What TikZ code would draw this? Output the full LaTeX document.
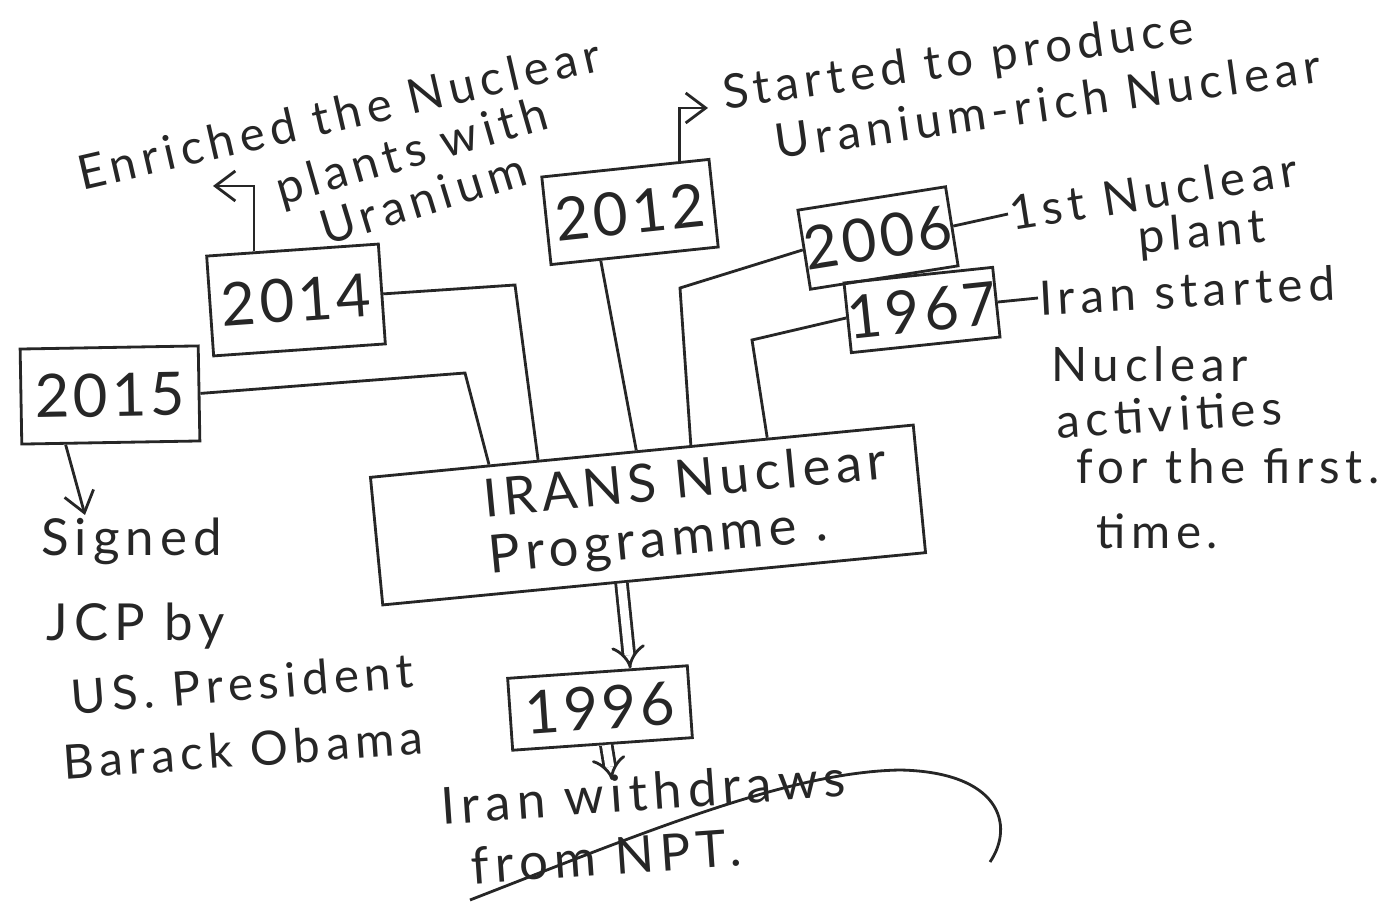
\documentclass[tikz,border=0pt]{standalone}
\usepackage{fontspec}
\setmainfont{Lato}
\usetikzlibrary{arrows.meta, positioning, calc}

\begin{document}
\begin{tikzpicture}[x=0.01cm, y=-0.01cm, line width=0.8pt, draw=black!85, text=black!85,
    yearbox/.style={draw, inner sep=0pt, font=\fontsize{17}{20}\selectfont\addfontfeature{LetterSpace=6}},
    note/.style={anchor=west, inner sep=0pt, font=\fontsize{13.5}{16}\selectfont\addfontfeature{LetterSpace=12}},
    bignote/.style={note, font=\fontsize{14.5}{17}\selectfont\addfontfeature{LetterSpace=12}},
    link/.style={-{Straight Barb[length=2mm, width=3mm]}},
    fat/.style={double, double distance=2.5pt, -{Implies}}]
    \useasboundingbox (0,0) rectangle (1382,904);

    % year boxes
    \node[yearbox, minimum width=1.78cm, minimum height=0.95cm, rotate=1] (y2015) at (110,395) {2015};
    \node[yearbox, minimum width=1.72cm, minimum height=1.0cm, rotate=4] (y2014) at (296,300) {2014};
    \node[yearbox, minimum width=1.68cm, minimum height=0.88cm, rotate=6] (y2012) at (630,212) {2012};
    \node[yearbox, minimum width=1.48cm, minimum height=0.80cm, rotate=9] (y2006) at (878,238) {2006};
    \node[yearbox, minimum width=1.40cm, minimum height=0.70cm, rotate=6] (y1967) at (922,310) {1967};
    \node[yearbox, minimum width=1.80cm, minimum height=0.72cm, rotate=4] (y1996) at (600,708) {1996};
    \node[draw, minimum width=5.45cm, minimum height=1.12cm, rotate=5.5, align=left,
          font=\fontsize{15}{16}\selectfont\addfontfeature{LetterSpace=10}] (prog) at (648,515)
          {\hspace*{0.8cm}IRANS Nuclear\\\hspace*{0.8cm}Programme .};

    % notes
    \node[note, rotate=13] (tEnr) at (77,174) {Enriched the Nuclear};
    \node[note, rotate=16] (tPlants) at (276,193) {plants with};
    \node[note, rotate=17] (tUr) at (320,230) {Uranium};
    \node[note, rotate=8] (tStart) at (722,96) {Started to produce};
    \node[note, rotate=8] (tRich) at (774,142) {Uranium-rich Nuclear};
    \node[note, rotate=9] (t1st) at (1008,214) {1st Nuclear};
    \node[note, rotate=5] (tPlant) at (1137,240) {plant};
    \node[note, rotate=3] (tIran) at (1038,298) {Iran started};
    \node[note] (tNuc) at (1050,364) {Nuclear};
    \node[note, rotate=3.5] (tAct) at (1055,421) {activities};
    \node[note] (tFirst) at (1075,466) {for the first.};
    \node[note] (tTime) at (1095,531) {time.};
    \node[bignote] (tSigned) at (40,541) {Signed};
    \node[bignote] (tJcp) at (45,626) {JCP by};
    \node[note, rotate=4.5] (tUs) at (70,697) {US. President};
    \node[note, rotate=4] (tObama) at (62,762) {Barack Obama};
    \node[bignote, rotate=4] (tWith) at (440,806) {Iran withdraws};
    \node[bignote, rotate=4] (tNpt) at (470,866) {from NPT.};

    % bends and free ends
    \coordinate (b15) at (465,373);
    \coordinate (b14) at (515,285);
    \coordinate (b06) at (680,288);
    \coordinate (b67) at (752,340);
    \coordinate (e14) at (213,186);
    \coordinate (e12) at (708,108);
    \coordinate (e15) at (85,515);
    \coordinate (e96) at (612,780);

    % into the programme box
    \draw (y2015.east) -- (b15) -- ($(prog.north west)!0.22!(prog.north east)$);
    \draw (y2014.east) -- (b14) -- ($(prog.north west)!0.31!(prog.north east)$);
    \draw ($(y2012.south west)!0.3!(y2012.south east)$) -- ($(prog.north west)!0.49!(prog.north east)$);
    \draw (y2006.west) -- (b06) -- ($(prog.north west)!0.59!(prog.north east)$);
    \draw (y1967.west) -- (b67) -- ($(prog.north west)!0.73!(prog.north east)$);

    % out to the notes
    \draw[link] ($(y2014.north west)!0.28!(y2014.north east)$) |- (e14);
    \draw[link] ($(y2012.north west)!0.82!(y2012.north east)$) |- (e12);
    \draw (y2006.east) -- (t1st.west);
    \draw (y1967.east) -- (tIran.west);
    \draw[link] ($(y2015.south west)!0.25!(y2015.south east)$) -- (e15);
    \draw[fat] ($(prog.south west)!0.44!(prog.south east)$) -- ($(y1996.north west)!0.68!(y1996.north east)$);
    \draw[fat] ($(y1996.south west)!0.52!(y1996.south east)$) -- (e96);

    % stroke through the last note
    \draw (470,900) .. controls (650,830) and (790,772) .. (900,770)
          .. controls (1000,772) and (1015,825) .. (990,862);
\end{tikzpicture}
\end{document}
